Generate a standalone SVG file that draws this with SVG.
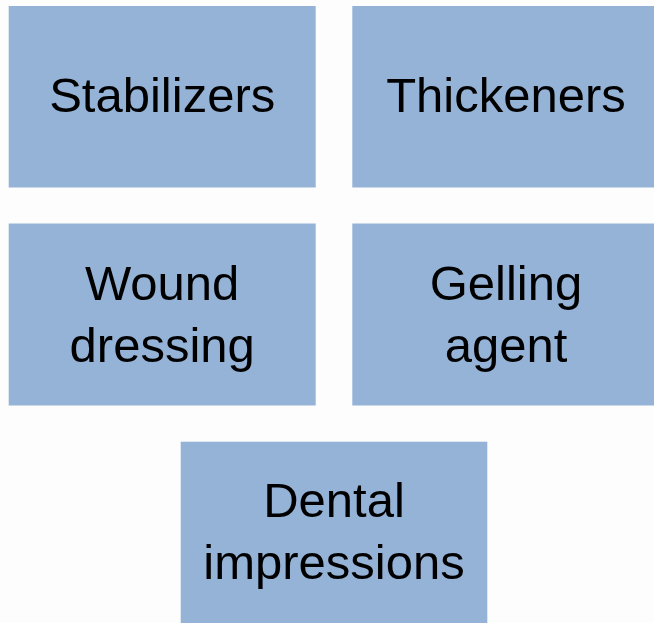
<svg xmlns="http://www.w3.org/2000/svg" width="654" height="623" viewBox="0 0 654 623">
<style>
.box{fill:#95B3D7;}
.t{font-family:"Liberation Sans",Arial,sans-serif;font-size:49px;fill:#000;text-anchor:middle;}
</style>
<rect x="0" y="0" width="654" height="623" fill="#FDFDFD"/>
<g id="connectors"></g>
<g id="stabilizers">
<rect class="box" x="8.7" y="6" width="307" height="181.5"/>
<text class="t" x="162.2" y="112">Stabilizers</text>
</g>
<g id="thickeners">
<rect class="box" x="352.3" y="6" width="307" height="181.5"/>
<text class="t" x="506" y="112">Thickeners</text>
</g>
<g id="wound-dressing">
<rect class="box" x="8.7" y="223.5" width="307" height="182"/>
<text class="t" x="162.2" y="299.5">Wound</text>
<text class="t" x="162.2" y="361.5">dressing</text>
</g>
<g id="gelling-agent">
<rect class="box" x="352.3" y="223.5" width="307" height="182"/>
<text class="t" x="506" y="299.5">Gelling</text>
<text class="t" x="506" y="361.5">agent</text>
</g>
<g id="dental-impressions">
<rect class="box" x="180.7" y="441.7" width="306.6" height="185"/>
<text class="t" x="334" y="517">Dental</text>
<text class="t" x="334" y="579">impressions</text>
</g>
</svg>
